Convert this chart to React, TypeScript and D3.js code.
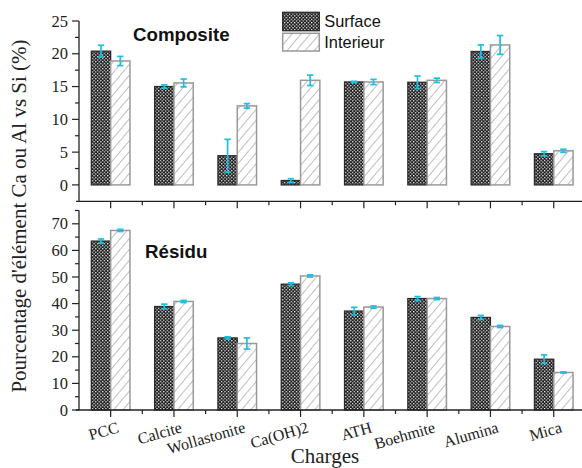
import React from "react";
import * as d3 from "d3";

const categories = ["PCC", "Calcite", "Wollastonite", "Ca(OH)2", "ATH", "Boehmite", "Alumina", "Mica"];
const compositeSurface = [20.4, 15.0, 4.45, 0.67, 15.7, 15.65, 20.35, 4.75];
const compositeSurfaceErr = [0.9, 0.25, 2.5, 0.28, 0.1, 0.95, 1.0, 0.33];
const compositeInterieur = [18.9, 15.55, 12.05, 15.95, 15.7, 15.95, 21.35, 5.2];
const compositeInterieurErr = [0.7, 0.6, 0.35, 0.8, 0.4, 0.33, 1.43, 0.23];
const residuSurface = [63.5, 38.9, 27.1, 47.3, 37.2, 41.9, 34.8, 19.1];
const residuSurfaceErr = [0.8, 0.9, 0.4, 0.5, 1.4, 0.75, 0.75, 1.6];
const residuInterieur = [67.5, 40.8, 25.0, 50.4, 38.7, 41.9, 31.4, 14.1];
const residuInterieurErr = [0.4, 0.4, 2.1, 0.4, 0.4, 0.4, 0.4, 0.2];
const topTicks = [0, 5, 10, 15, 20, 25];
const bottomTicks = [0, 10, 20, 30, 40, 50, 60, 70];
const seriesNames = ["Surface", "Interieur"];

const W = 582, H = 468;
const AX = 79;
const STEP = 63.3;
const serif = "Liberation Serif, Times New Roman, serif";
const sans = "Liberation Sans, Arial, sans-serif";
const errColor = "#1cc0e2";
const axisColor = "#222";

const x = d3.scaleBand<string>().domain(categories).range([AX, AX + STEP * categories.length]).padding(0);
const barW = x.bandwidth() * 0.305;
const center = (c: string) => (x(c) as number) + x.bandwidth() / 2;

function Panel({ y, ticks, minor, surf, surfErr, inter, interErr, title, titleX, titleY, yTop, yBot }: any) {
  return (
    <g>
      {categories.map((c, i) => {
        const cx = center(c);
        const ys = y(surf[i]), yi = y(inter[i]), y0 = y(0);
        return (
          <g key={c}>
            <rect x={cx - barW} y={ys} width={barW} height={y0 - ys} fill="url(#checker)" stroke="#2a2a2a" strokeWidth={1.3} />
            <rect x={cx} y={yi} width={barW} height={y0 - yi} fill="url(#hatch)" stroke="#999" strokeWidth={1.5} />
          </g>
        );
      })}
      {categories.map((c, i) => {
        const cx = center(c);
        const items = [
          { xx: cx - barW / 2, v: surf[i], e: surfErr[i] },
          { xx: cx + barW / 2, v: inter[i], e: interErr[i] },
        ];
        return items.map((it, k) => (
          <g key={c + k} stroke={errColor} strokeWidth={1.7}>
            <line x1={it.xx} x2={it.xx} y1={y(it.v + it.e)} y2={y(it.v - it.e)} />
            <line x1={it.xx - 3.2} x2={it.xx + 3.2} y1={y(it.v + it.e)} y2={y(it.v + it.e)} />
            <line x1={it.xx - 3.2} x2={it.xx + 3.2} y1={y(it.v - it.e)} y2={y(it.v - it.e)} />
          </g>
        ));
      })}
      {/* y axis */}
      <line x1={AX} x2={AX} y1={yTop} y2={yBot} stroke={axisColor} strokeWidth={1.3} />
      {minor.map((t: number) => (
        <line key={"m" + t} x1={AX - 4} x2={AX} y1={y(t)} y2={y(t)} stroke={axisColor} strokeWidth={1.2} />
      ))}
      {ticks.map((t: number) => (
        <g key={t}>
          <line x1={AX - 7} x2={AX} y1={y(t)} y2={y(t)} stroke={axisColor} strokeWidth={1.2} />
          <text x={AX - 11} y={y(t)} dy="0.34em" textAnchor="end" fontFamily={serif} fontSize={16.5} fill="#222">{t}</text>
        </g>
      ))}
      {/* x axis */}
      <line x1={AX - 3} x2={W} y1={yBot} y2={yBot} stroke={axisColor} strokeWidth={1.3} />
      {categories.map((c) => (
        <g key={"xt" + c}>
          <line x1={center(c)} x2={center(c)} y1={yBot} y2={yBot + 7} stroke={axisColor} strokeWidth={1.2} />
          <line x1={(x(c) as number) + x.bandwidth()} x2={(x(c) as number) + x.bandwidth()} y1={yBot} y2={yBot + 4} stroke={axisColor} strokeWidth={1.2} />
        </g>
      ))}
      <text x={titleX} y={titleY} fontFamily={sans} fontWeight="bold" fontSize={18.7} fill="#111">{title}</text>
    </g>
  );
}

export default function App() {
  const yTopPanel = d3.scaleLinear().domain([-2.5, 25]).range([201.3, 21]);
  const yBotPanel = d3.scaleLinear().domain([0, 75]).range([410, 210.5]);
  const topMinor = [2.5, 7.5, 12.5, 17.5, 22.5];
  const botMinor = [5, 15, 25, 35, 45, 55, 65, 75];
  return (
    <svg width={W} height={H} style={{ position: "absolute", left: 0, top: 0, background: "#fff" }}>
      <defs>
        <pattern id="checker" patternUnits="userSpaceOnUse" width={3.4} height={3.4}>
          <rect width={3.4} height={3.4} fill="#1a1a1a" />
          <rect x={0} y={0} width={1.25} height={1.25} fill="#fff" />
          <rect x={1.7} y={1.7} width={1.25} height={1.25} fill="#fff" />
        </pattern>
        <pattern id="hatch" patternUnits="userSpaceOnUse" width={7} height={7} patternTransform="rotate(40)">
          <rect width={7} height={7} fill="#fff" />
          <line x1={0} y1={0} x2={0} y2={7} stroke="#8a8a8a" strokeWidth={1.1} />
        </pattern>
      </defs>
      <Panel y={yTopPanel} ticks={topTicks} minor={topMinor} surf={compositeSurface} surfErr={compositeSurfaceErr}
        inter={compositeInterieur} interErr={compositeInterieurErr} title="Composite" titleX={133} titleY={40.7} yTop={21} yBot={201.3} />
      <Panel y={yBotPanel} ticks={bottomTicks} minor={botMinor} surf={residuSurface} surfErr={residuSurfaceErr}
        inter={residuInterieur} interErr={residuInterieurErr} title="Résidu" titleX={145} titleY={258.3} yTop={210.5} yBot={410} />
      {categories.map((c) => (
        <text key={"xl" + c} transform={`translate(${center(c) + 9},${432}) rotate(-16)`} textAnchor="end"
          fontFamily={serif} fontSize={16} fill="#222">{c}</text>
      ))}
      <text x={325} y={463} textAnchor="middle" fontFamily={serif} fontSize={21} fill="#222">Charges</text>
      <text transform={`translate(25.5,216) rotate(-90)`} textAnchor="middle" fontFamily={serif} fontSize={21} fill="#222">
        Pourcentage d'élément Ca ou Al vs Si (%)
      </text>
      {/* legend */}
      <rect x={282.7} y={12.3} width={36.6} height={18.4} fill="url(#checker)" stroke="#2a2a2a" strokeWidth={1.3} />
      <rect x={282.7} y={33.3} width={36.6} height={17.7} fill="url(#hatch)" stroke="#999" strokeWidth={1.5} />
      <text x={324.3} y={26.7} fontFamily={sans} fontSize={16.4} fill="#111">{seriesNames[0]}</text>
      <text x={324.3} y={47.7} fontFamily={sans} fontSize={16.4} fill="#111">{seriesNames[1]}</text>
    </svg>
  );
}
